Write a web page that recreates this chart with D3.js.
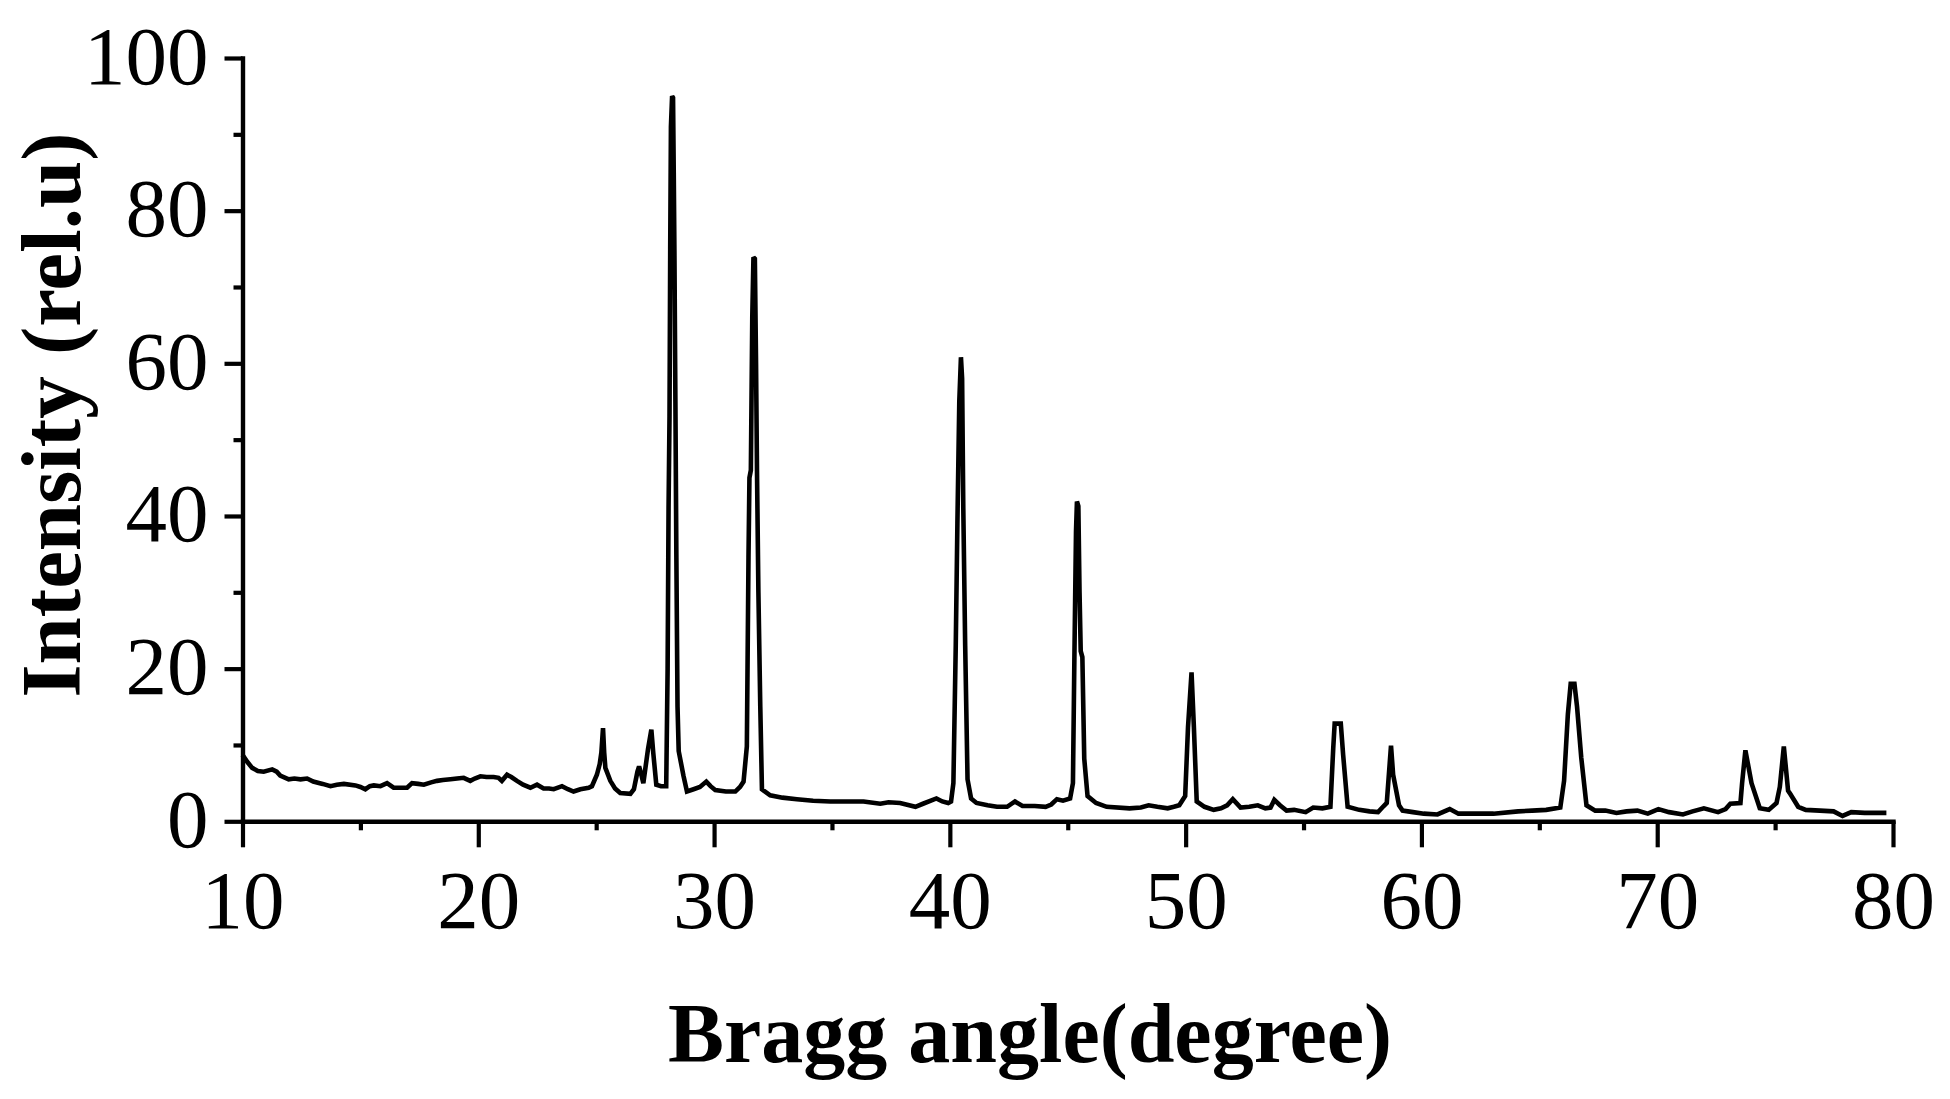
<!DOCTYPE html>
<html lang="en">

<head>
    <meta charset="UTF-8">
    <title>XRD pattern</title>
    <style>
        body { margin: 0; background: #fff; }
        svg { display: block; }
        text { font-family: "Times New Roman", "Liberation Serif", serif; fill: #000; }
    </style>
</head>

<body>
    <svg id="chart" width="1950" height="1099" viewBox="0 0 1950 1099"></svg>
    <script src="https://d3js.org/d3.v7.min.js"></script>
    <script>
        // Diffraction pattern (2theta in degrees, intensity in rel. units)
        const angle = [
            10.0, 10.2, 10.41, 10.65, 10.9, 11.26, 11.45, 11.6, 11.96, 12.2, 12.46, 12.74, 13.0, 13.4, 13.73,
            14.0, 14.3, 14.79, 15.0, 15.21, 15.4, 15.57, 15.85, 16.13, 16.41, 16.7, 16.98, 17.19, 17.45, 17.69,
            18.0, 18.25, 18.5, 18.82, 19.1, 19.38, 19.66, 19.85, 20.09, 20.35, 20.65, 20.86, 21.0, 21.22, 21.4,
            21.64, 21.9, 22.21, 22.49, 22.77, 23.0, 23.2, 23.55, 23.8, 24.04, 24.33, 24.68, 24.82, 25.03, 25.15,
            25.22, 25.29, 25.34, 25.39, 25.6, 25.8, 26.02, 26.45, 26.6, 26.75, 26.82, 26.9, 27.0, 27.08, 27.2,
            27.34, 27.42, 27.55, 27.75, 27.97, 28.03, 28.07, 28.11, 28.14, 28.17, 28.22, 28.26, 28.29, 28.32,
            28.36, 28.4, 28.45, 28.5, 28.7, 28.85, 29.13, 29.4, 29.67, 29.85, 30.05, 30.5, 30.9, 31.1, 31.25,
            31.39, 31.46, 31.5, 31.56, 31.62, 31.67, 31.73, 31.78, 31.82, 31.88, 31.96, 32.03, 32.38, 32.9,
            33.51, 34.2, 34.93, 35.6, 36.34, 37.05, 37.4, 37.89, 38.54, 38.86, 39.43, 39.68, 39.93, 40.05,
            40.15, 40.25, 40.32, 40.4, 40.47, 40.52, 40.57, 40.65, 40.75, 40.9, 41.13, 41.6, 42.0, 42.43, 42.76,
            43.08, 43.6, 44.06, 44.3, 44.54, 44.8, 45.1, 45.22, 45.28, 45.35, 45.39, 45.45, 45.5, 45.55, 45.62,
            45.7, 45.84, 46.2, 46.65, 47.62, 48.1, 48.43, 48.8, 49.24, 49.5, 49.73, 49.98, 50.1, 50.25, 50.35,
            50.47, 50.8, 51.19, 51.5, 51.76, 52.0, 52.33, 52.7, 53.06, 53.38, 53.6, 53.76, 54.0, 54.28, 54.6,
            55.09, 55.41, 55.8, 56.14, 56.26, 56.32, 56.58, 56.68, 56.87, 57.36, 57.8, 58.16, 58.4, 58.53,
            58.71, 58.8, 59.05, 59.2, 59.64, 60.1, 60.68, 61.2, 61.57, 62.3, 63.06, 64.1, 64.7, 65.29, 65.89,
            66.05, 66.21, 66.33, 66.49, 66.6, 66.78, 67.0, 67.37, 67.8, 68.27, 68.7, 69.16, 69.6, 70.05, 70.5,
            71.09, 71.5, 71.98, 72.58, 72.9, 73.1, 73.53, 73.6, 73.74, 74.0, 74.35, 74.73, 75.06, 75.2, 75.37,
            75.55, 75.62, 75.98, 76.3, 76.9, 77.48, 77.86, 78.23, 78.8, 79.72
        ];
        const intensity = [
            8.7, 7.8, 7.0, 6.6, 6.5, 6.8, 6.5, 6.0, 5.5, 5.6, 5.5, 5.6, 5.2, 4.9, 4.6,
            4.8, 4.9, 4.7, 4.5, 4.2, 4.6, 4.7, 4.6, 5.0, 4.4, 4.4, 4.4, 5.0, 4.9, 4.8,
            5.1, 5.3, 5.4, 5.5, 5.6, 5.7, 5.3, 5.6, 5.9, 5.8, 5.8, 5.7, 5.3, 6.1, 5.8,
            5.3, 4.8, 4.4, 4.8, 4.3, 4.3, 4.2, 4.6, 4.2, 3.9, 4.2, 4.4, 4.6, 6.1, 7.5,
            9.0, 12.2, 9.0, 7.0, 5.3, 4.3, 3.7, 3.6, 4.2, 6.5, 7.2, 6.3, 5.0, 6.8, 9.5,
            12.0, 9.0, 4.8, 4.6, 4.6, 20, 41, 53, 75, 91, 95, 94.8, 85, 74,
            55, 35, 15, 9.2, 6.0, 3.9, 4.2, 4.5, 5.2, 4.6, 4.1, 3.9, 3.9, 4.5, 5.2,
            9.8, 34.6, 45, 46, 66, 73.9, 73.7, 60, 46, 30, 15, 4.2, 3.4, 3.1,
            2.9, 2.7, 2.6, 2.6, 2.6, 2.3, 2.5, 2.4, 1.9, 2.3, 3.0, 2.6, 2.4, 2.6,
            5, 23, 39, 55, 60.8, 58, 41, 23, 5.5, 3.0, 2.4, 2.1, 1.9, 1.9, 2.6,
            2.0, 2.0, 1.9, 2.2, 2.9, 2.7, 3.0, 5, 21, 38, 41.9, 41.3, 30, 22.3, 21.5,
            8.2, 3.3, 2.4, 1.9, 1.7, 1.8, 2.1, 1.9, 1.7, 1.9, 2.1, 3.3, 12.3, 19.5, 12.3,
            2.6, 1.9, 1.5, 1.7, 2.1, 2.9, 1.8, 1.9, 2.1, 1.7, 1.8, 2.8, 2.1, 1.4, 1.5,
            1.2, 1.8, 1.7, 1.9, 9.6, 12.8, 12.8, 8.7, 1.9, 1.5, 1.3, 1.2, 2.0, 2.4,
            9.9, 6.1, 2.1, 1.4, 1.2, 1.0, 0.9, 1.6, 1.0, 1.0, 1.0, 1.3, 1.4, 1.5, 1.8,
            5.3, 14, 18.0, 18, 15, 8.3, 2.1, 1.4, 1.4, 1.1, 1.3, 1.4, 1.0, 1.6, 1.2,
            0.9, 1.3, 1.7, 1.2, 1.6, 2.3, 2.4, 5, 9.3, 5, 1.7, 1.5, 2.4, 4.5, 9.8,
            4.0, 3.7, 1.9, 1.5, 1.4, 1.3, 0.7, 1.2, 1.1, 1.1
        ];

        // Tick values
        const xMajor = [10, 20, 30, 40, 50, 60, 70, 80];
        const xMinor = [15, 25, 35, 45, 55, 65, 75];
        const yMajor = [0, 20, 40, 60, 80, 100];
        const yMinor = [10, 30, 50, 70, 90];

        const svg = d3.select("#chart");
        svg.append("rect").attr("width", 1950).attr("height", 1099).attr("fill", "#fff");

        const x = d3.scaleLinear().domain([10, 80]).range([242.5, 1893]);
        const y = d3.scaleLinear().domain([0, 100]).range([821.3, 58]);

        const points = angle.map((a, i) => [a, intensity[i]]);

        // The pattern itself
        const line = d3.line()
            .x(d => x(d[0]))
            .y(d => y(d[1]));

        svg.append("path")
            .datum(points)
            .attr("fill", "none")
            .attr("stroke", "#000")
            .attr("stroke-width", 4.6)
            .attr("stroke-linejoin", "miter")
            .attr("stroke-miterlimit", 2)
            .attr("d", line);

        // Minor ticks first, then major axes with labels
        svg.append("g")
            .attr("transform", `translate(0,${y(0)})`)
            .call(d3.axisBottom(x).tickValues(xMinor).tickSize(9).tickSizeOuter(0).tickFormat(""))
            .call(g => g.select(".domain").remove());

        svg.append("g")
            .attr("transform", `translate(${x(10)},0)`)
            .call(d3.axisLeft(y).tickValues(yMinor).tickSize(9).tickSizeOuter(0).tickFormat(""))
            .call(g => g.select(".domain").remove());

        const xAxis = svg.append("g")
            .attr("transform", `translate(0,${y(0)})`)
            .call(d3.axisBottom(x).tickValues(xMajor).tickSize(26).tickSizeOuter(0).tickFormat(d3.format("d")));

        const yAxis = svg.append("g")
            .attr("transform", `translate(${x(10)},0)`)
            .call(d3.axisLeft(y).tickValues(yMajor).tickSize(18).tickSizeOuter(0).tickFormat(d3.format("d")));

        svg.selectAll(".tick line").attr("stroke", "#000").attr("stroke-width", 4.2);
        svg.selectAll(".domain").attr("stroke", "#000").attr("stroke-width", 4.4).attr("stroke-linecap", "square");

        xAxis.selectAll("text")
            .attr("y", 107)
            .attr("dy", null)
            .attr("font-size", 83);

        yAxis.selectAll("text")
            .attr("x", -34)
            .attr("dy", null)
            .attr("y", 25)
            .attr("font-size", 83);

        svg.selectAll(".tick text")
            .style("font-family", "'Times New Roman', 'Liberation Serif', serif")
            .attr("fill", "#000");

        // Axis titles
        svg.append("text")
            .attr("x", 1030)
            .attr("y", 1062)
            .attr("text-anchor", "middle")
            .attr("font-size", 84)
            .attr("font-weight", "bold")
            .text("Bragg angle(degree)");

        svg.append("text")
            .attr("transform", "translate(80,415) rotate(-90)")
            .attr("text-anchor", "middle")
            .attr("font-size", 85)
            .attr("font-weight", "bold")
            .text("Intensity (rel.u)");
    </script>
</body>

</html>
